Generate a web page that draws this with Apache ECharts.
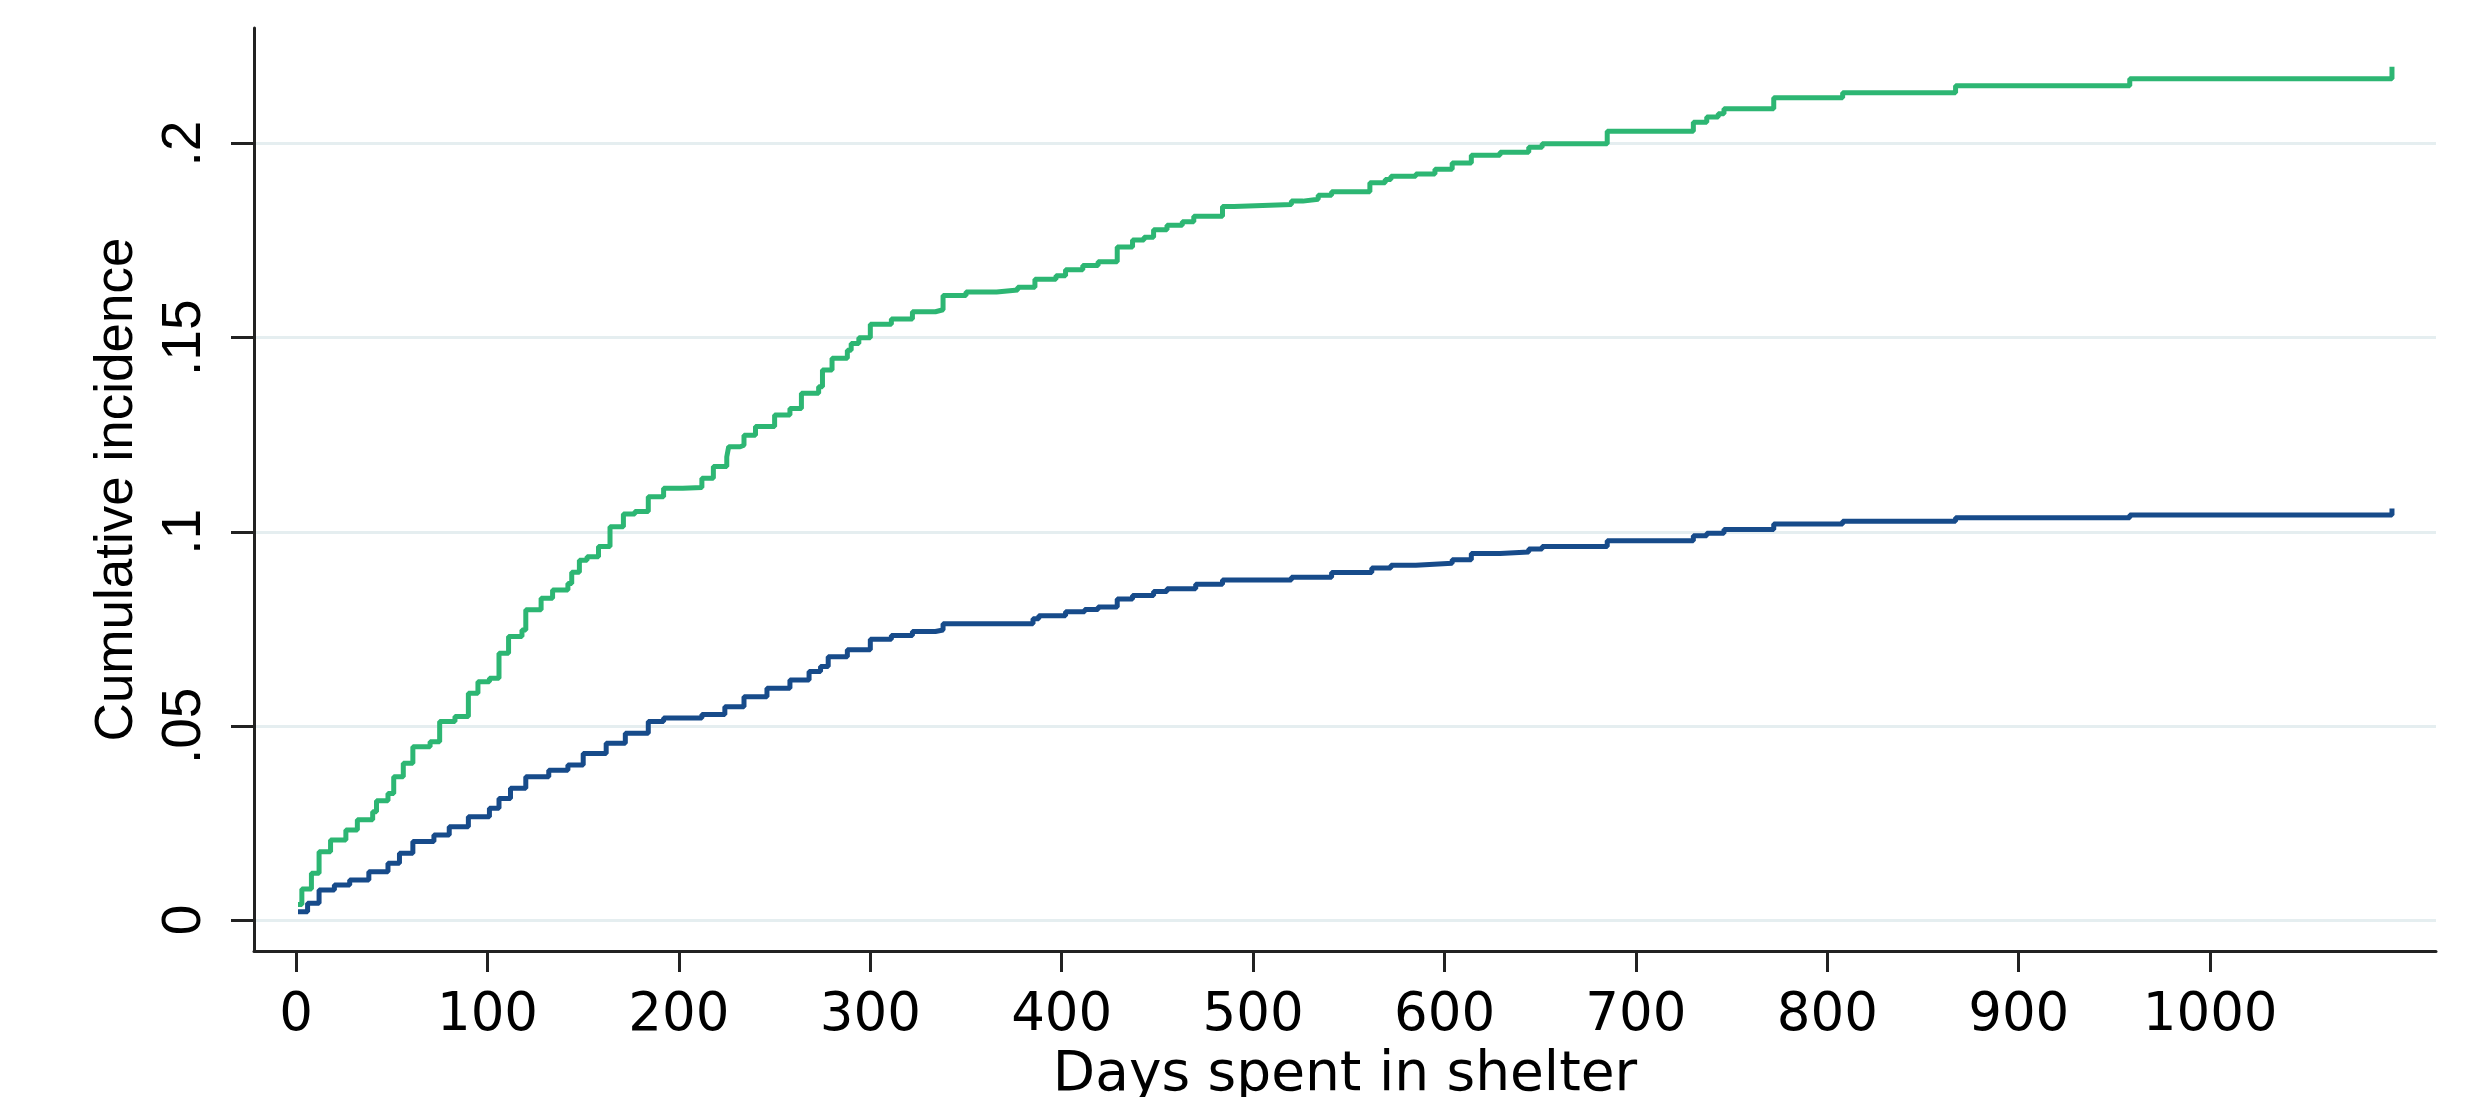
<!DOCTYPE html>
<html>
<head>
<meta charset="utf-8">
<script src="https://cdn.jsdelivr.net/npm/echarts@6/dist/echarts.min.js"></script>
<style>
html,body{margin:0;padding:0;background:#fff;}
#chart{width:2481px;height:1097px;}
</style>
</head>
<body>
<div id="chart"></div>
<script>
// ---- data ----
const xTickValues = [0, 100, 200, 300, 400, 500, 600, 700, 800, 900, 1000];
const xTickLabels = ['0', '100', '200', '300', '400', '500', '600', '700', '800', '900', '1000'];
const yTickValues = [0, 0.05, 0.1, 0.15, 0.2];
const yTickLabels = ['0', '.05', '.1', '.15', '.2'];

const greenDays = [1, 3, 8, 12, 18, 26, 32, 40, 42, 48, 51, 56, 61, 70, 75, 83, 90, 95, 101, 106, 111, 118, 120, 128, 134, 142, 144, 148, 152, 158, 164, 171, 177, 184, 192, 202, 212, 218, 225, 226, 232, 234, 240, 250, 258, 264, 273, 275, 280, 288, 290, 294, 300, 311, 322, 334, 338, 350, 366, 377, 386, 397, 402, 411, 419, 429, 437, 443, 448, 455, 463, 469, 484, 490, 520, 526, 534, 541, 561, 569, 572, 585, 595, 604, 614, 629, 644, 651, 685, 730, 737, 743, 746, 772, 808, 867, 958, 1095];
const greenVals = [0.004, 0.008, 0.012, 0.0176, 0.0206, 0.0232, 0.0258, 0.0279, 0.0307, 0.0326, 0.0369, 0.0404, 0.0446, 0.0459, 0.0511, 0.0524, 0.0584, 0.0614, 0.0623, 0.0687, 0.073, 0.0747, 0.0799, 0.0829, 0.085, 0.0867, 0.0896, 0.0927, 0.0936, 0.0962, 0.1013, 0.1046, 0.1052, 0.109, 0.1112, 0.1114, 0.1138, 0.1168, 0.1193, 0.1219, 0.1223, 0.1249, 0.1271, 0.1301, 0.1318, 0.1357, 0.1374, 0.1417, 0.1447, 0.1468, 0.1485, 0.15, 0.1535, 0.1548, 0.1567, 0.1572, 0.1609, 0.1618, 0.1623, 0.163, 0.1651, 0.166, 0.1675, 0.1686, 0.1696, 0.1734, 0.1752, 0.1759, 0.1778, 0.179, 0.1799, 0.1813, 0.1838, 0.1843, 0.1852, 0.1857, 0.1867, 0.1876, 0.1899, 0.1908, 0.1916, 0.1922, 0.1934, 0.195, 0.197, 0.1978, 0.1991, 0.2, 0.2032, 0.2055, 0.2069, 0.2077, 0.209, 0.2118, 0.2131, 0.2149, 0.2167, 0.2198];

const blueDays = [1, 6, 12, 20, 28, 38, 48, 54, 61, 72, 80, 90, 101, 106, 112, 120, 132, 142, 150, 162, 172, 184, 192, 212, 224, 234, 246, 258, 268, 274, 278, 288, 300, 311, 322, 334, 338, 385, 388, 402, 412, 419, 429, 437, 448, 455, 470, 484, 520, 541, 562, 572, 585, 604, 614, 629, 644, 651, 685, 730, 737, 746, 772, 808, 867, 958, 1095];
const blueVals = [0.0021, 0.0043, 0.0077, 0.009, 0.0103, 0.0124, 0.0146, 0.0172, 0.0202, 0.0219, 0.024, 0.0266, 0.0288, 0.0313, 0.0339, 0.0369, 0.0386, 0.0399, 0.0429, 0.0455, 0.0481, 0.0511, 0.052, 0.0529, 0.0549, 0.0575, 0.0597, 0.0618, 0.064, 0.0653, 0.0678, 0.0696, 0.0723, 0.0733, 0.0743, 0.0747, 0.0763, 0.0776, 0.0784, 0.0794, 0.08, 0.0806, 0.0827, 0.0836, 0.0846, 0.0853, 0.0865, 0.0876, 0.0883, 0.0895, 0.0907, 0.0914, 0.0919, 0.0928, 0.0944, 0.0948, 0.0956, 0.0962, 0.0977, 0.099, 0.0996, 0.1006, 0.102, 0.1027, 0.1036, 0.1043, 0.106];

const zip = (xs, ys) => xs.map((x, i) => [x, ys[i]]);
const labelFor = (values, labels) => v => {
  const i = values.findIndex(t => Math.abs(t - v) < 1e-9);
  return i >= 0 ? labels[i] : '';
};

const chart = echarts.init(document.getElementById('chart'), null, {renderer: 'canvas'});
chart.setOption({
  animation: false,
  backgroundColor: '#ffffff',
  grid: {left: 254, right: 45, top: 28, bottom: 146, containLabel: false, outerBoundsMode: 'none'},
  xAxis: {
    type: 'value',
    min: -22, max: 1118,
    name: 'Days spent in shelter',
    nameLocation: 'middle',
    nameGap: 84,
    nameTextStyle: {fontFamily: 'DejaVu Sans', fontSize: 55, color: '#000'},
    axisLine: {show: true, onZero: false, lineStyle: {color: '#222', width: 3}},
    axisTick: {show: true, length: 21, customValues: xTickValues, lineStyle: {color: '#222', width: 3}},
    axisLabel: {customValues: xTickValues, formatter: labelFor(xTickValues, xTickLabels),
      fontFamily: 'DejaVu Sans', fontSize: 53, color: '#000', margin: 39},
    splitLine: {show: false}
  },
  yAxis: {
    type: 'value',
    min: -0.008, max: 0.2298,
    name: 'Cumulative incidence',
    nameLocation: 'middle',
    nameGap: 110,
    nameTextStyle: {fontFamily: 'Liberation Sans', fontSize: 53, color: '#000'},
    axisLine: {show: true, onZero: false, lineStyle: {color: '#222', width: 3}},
    axisTick: {show: true, length: 23, customValues: yTickValues, lineStyle: {color: '#222', width: 3}},
    axisLabel: {customValues: yTickValues, formatter: labelFor(yTickValues, yTickLabels),
      rotate: 90, fontFamily: 'Liberation Sans', fontSize: 55, color: '#000', margin: 42},
    splitLine: {show: true, lineStyle: {color: '#e5eef0', width: 3}}
  },
  series: [
    {
      name: 'group 2', type: 'line', step: 'end', showSymbol: false, symbol: 'none',
      data: zip(greenDays, greenVals),
      lineStyle: {color: '#2db673', width: 5}, z: 3
    },
    {
      name: 'group 1', type: 'line', step: 'end', showSymbol: false, symbol: 'none',
      data: zip(blueDays, blueVals),
      lineStyle: {color: '#174b8a', width: 5}, z: 3
    }
  ]
});
</script>
</body>
</html>
